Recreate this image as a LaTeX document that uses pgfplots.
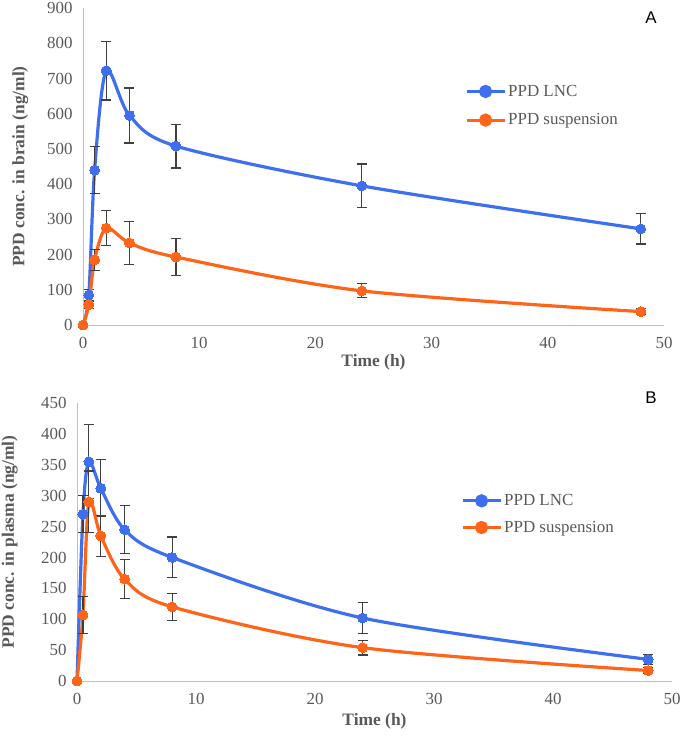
\documentclass[border=0pt]{standalone}
\usepackage{pgfplots}
\pgfplotsset{compat=1.18}
\usepackage{fontspec}
\setmainfont{Liberation Serif}
\newfontfamily\sansf{Liberation Sans}
\definecolor{cblue}{HTML}{3D6FEE}
\definecolor{corange}{HTML}{FF6418}
\definecolor{tickgray}{HTML}{595959}
\definecolor{axgray}{HTML}{BFBFBF}
\definecolor{errgray}{HTML}{404040}
\pgfplotsset{
  mystyle/.style={
    scale only axis,
    axis x line*=bottom, axis y line*=left,
    axis line style={axgray, line width=1pt},
    x axis line style={-}, y axis line style={-},
    tick style={draw=none},
    xmin=0, xmax=50, xtick={0,10,20,30,40,50},
    ymin=0,
    /pgf/number format/assume math mode=true,
    ticklabel style={font=\fontsize{17}{19}\selectfont, text=tickgray},
    xticklabel style={yshift=-9bp},
    yticklabel style={xshift=-7bp},
    label style={font=\bfseries\fontsize{17.5}{20}\selectfont, text=tickgray},
    clip=false,
    legend style={draw=none, fill=none, font=\fontsize{17}{19}\selectfont, text=tickgray, anchor=north west},
    legend cell align=left,
    legend image code/.code={
      \draw[##1, mark=none] (0bp,0bp) -- (38bp,0bp);
      \fill[##1] (19bp,0bp) circle (5bp);},
    every axis plot/.append style={line width=3.2pt, smooth, tension=0.5},
  },
  lnc/.style={forget plot, cblue, mark=*, mark size=5pt, mark options={fill=cblue, draw=cblue, line width=0pt},
    error bars/.cd, y dir=both, y explicit,
    error bar style={errgray, line width=1.2pt, solid},
    error mark options={rotate=90, errgray, mark size=5pt, line width=1.2pt}},
  sus/.style={forget plot, corange, mark=*, mark size=5pt, mark options={fill=corange, draw=corange, line width=0pt},
    error bars/.cd, y dir=both, y explicit,
    error bar style={errgray, line width=1.2pt, solid},
    error mark options={rotate=90, errgray, mark size=5pt, line width=1.2pt}},
}
\begin{document}
\begin{tikzpicture}
\path[use as bounding box] (0bp,0bp) rectangle (680bp,-738bp);
% Panel A
\begin{axis}[mystyle, at={(83bp,-325bp)}, anchor=south west, width=581bp, height=317bp,
  ymax=900, ytick={0,100,...,900},
  xlabel={Time (h)}, ylabel={PPD conc. in brain (ng/ml)},
  xlabel style={yshift=1bp},
  ylabel style={at={(axis description cs:-0.108,0.5)}, anchor=center},
  legend style={at={(0.652,0.77)}, row sep=12pt}]
\addlegendimage{cblue, line width=3.2pt}
\addlegendentry{PPD LNC}
\addlegendimage{corange, line width=3.2pt}
\addlegendentry{PPD suspension}
\addplot+[lnc] coordinates {
 (0,0) +- (0,0)
 (0.5,85) +- (0,15)
 (1,440) +- (0,67)
 (2,722) +- (0,83)
 (4,595) +- (0,78)
 (8,508) +- (0,62)
 (24,395) +- (0,62)
 (48,273) +- (0,43)
};
\addplot+[sus] coordinates {
 (0,0) +- (0,0)
 (0.5,58) +- (0,10)
 (1,185) +- (0,30)
 (2,275) +- (0,50)
 (4,233) +- (0,62)
 (8,193) +- (0,52)
 (24,97) +- (0,20)
 (48,38) +- (0,8)
};
\end{axis}
\node[font=\sansf\fontsize{17}{19}\selectfont, anchor=center] at (651bp,-18bp) {A};
% Panel B
\begin{axis}[mystyle, at={(77bp,-681bp)}, anchor=south west, width=595bp, height=278bp,
  ymax=450, ytick={0,50,...,450},
  xlabel={Time (h)}, ylabel={PPD conc. in plasma (ng/ml)},
  xlabel style={yshift=-2bp},
  ylabel style={at={(axis description cs:-0.113,0.5)}, anchor=center},
  legend style={at={(0.64,0.686)}, row sep=10pt}]
\addlegendimage{cblue, line width=3.2pt}
\addlegendentry{PPD LNC}
\addlegendimage{corange, line width=3.2pt}
\addlegendentry{PPD suspension}
\addplot+[lnc] coordinates {
 (0,0) +- (0,0)
 (0.5,270) +- (0,30)
 (1,355) +- (0,60)
 (2,312) +- (0,46)
 (4,245) +- (0,39)
 (8,200) +- (0,33)
 (24,102) +- (0,25)
 (48,35) +- (0,8)
};
\addplot+[sus] coordinates {
 (0,0) +- (0,0)
 (0.5,107) +- (0,30)
 (1,290) +- (0,50)
 (2,235) +- (0,33)
 (4,165) +- (0,32)
 (8,120) +- (0,22)
 (24,54) +- (0,12)
 (48,17) +- (0,5)
};
\end{axis}
\node[font=\sansf\fontsize{17}{19}\selectfont, anchor=center] at (651bp,-398bp) {B};
\end{tikzpicture}
\end{document}
